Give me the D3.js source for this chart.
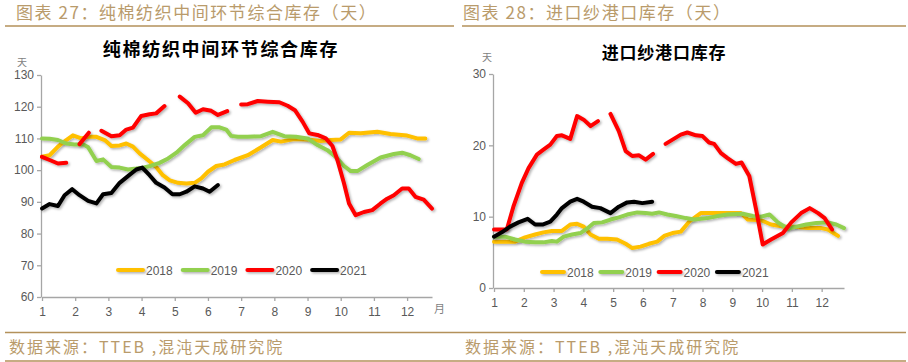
<!DOCTYPE html>
<html>
<head>
<meta charset="utf-8">
<script src="https://cdn.jsdelivr.net/npm/d3@7"></script>
<style>
  body { margin: 0; background: #fff; }
  svg { display: block; font-family: "Liberation Sans Narrow", "Liberation Sans", Arial, sans-serif; }
  .hdr { fill: #b99b6b; font-family: "Noto Sans CJK SC", sans-serif; font-size: 17px; letter-spacing: 1.55px; }
  .src { fill: #b99b6b; font-family: "Noto Sans CJK SC", sans-serif; font-size: 16px; letter-spacing: 2px; }
  .rule { stroke: #b3915a; stroke-width: 1.5; }
  .title { fill: #000; font-family: "Noto Sans CJK SC", sans-serif; font-weight: 700; }
  .unit { fill: #7f7f7f; font-family: "Noto Sans CJK SC", sans-serif; font-size: 10px; }
  .axis path, .axis line { stroke: #a6a6a6; stroke-width: 1.3; }
  .axis text { fill: #595959; font-size: 12px; font-family: "Liberation Sans Narrow", "Liberation Sans", Arial, sans-serif; }
  .lgd { fill: #595959; font-size: 12px; }
  .curve { fill: none; stroke-width: 4; stroke-linecap: round; stroke-linejoin: round; }
</style>
</head>
<body>
<svg id="chart" width="908" height="362"></svg>
<script>
"use strict";


// Data
// ----

var months = [1, 2, 3, 4, 5, 6, 7, 8, 9, 10, 11, 12],
    years  = ["2018", "2019", "2020", "2021"];

// Chart 27 : days, [month, value], null = gap

var left2018 = [[1,104.2],[1.23,104.7],[1.48,107.4],[1.73,109.5],[1.93,111],[2.18,110],[2.39,110.5],[2.64,110.5],[2.89,109.5],[3.09,107.6],[3.34,107.8],[3.54,108.4],[3.74,107.4],[3.94,105.3],[4.19,103.2],[4.44,101],[4.64,98.4],[4.85,96.8],[5.1,96],[5.35,95.8],[5.6,96],[5.8,97.4],[6.0,99.5],[6.25,101.3],[6.5,101.8],[6.8,103.2],[7.2,104.7],[7.6,107.2],[7.95,109.5],[8.2,109],[8.6,109.8],[9.0,109.7],[9.4,109.2],[9.7,109.5],[10.0,109.7],[10.25,111.8],[10.6,111.6],[11.1,112.1],[11.5,111.4],[12.0,110.9],[12.3,110],[12.55,110]];

var left2019 = [[1,110],[1.23,109.9],[1.48,109.5],[1.73,108.4],[1.98,108.1],[2.23,108.2],[2.39,107.2],[2.64,102.9],[2.84,103.4],[3.09,101],[3.34,100.8],[3.59,100.2],[3.84,100.5],[4.04,100.8],[4.29,101.4],[4.54,102.3],[4.8,103.7],[5.05,105.5],[5.3,107.9],[5.6,110.5],[5.85,111],[6.1,113.5],[6.35,113.5],[6.55,112.8],[6.7,110.8],[6.9,110.5],[7.2,110.5],[7.6,110.7],[7.95,112.1],[8.3,110.7],[8.65,110.5],[9.0,110],[9.3,107.9],[9.6,106.3],[9.85,104.2],[10.1,101.3],[10.3,99.7],[10.5,99.7],[10.8,101.6],[11.2,104],[11.6,105.1],[11.85,105.5],[12.1,104.7],[12.35,103.5]];

var left2020 = [[1,104.2],[1.23,103.2],[1.48,102.1],[1.73,102.3],null,[2.13,108.2],[2.41,111.8],null,[2.79,112.4],[3.09,110.7],[3.34,111],[3.54,112.8],[3.74,113.4],[3.99,117.1],[4.24,117.6],[4.44,117.9],[4.69,120.2],null,[5.15,123.2],[5.4,121.1],[5.63,118.1],[5.85,119.2],[6.1,118.7],[6.3,117.4],[6.58,118.6],null,[7.0,120.7],[7.2,120.8],[7.5,121.8],[7.8,121.6],[8.15,121.4],[8.4,120.3],[8.62,118.9],[8.85,115.3],[9.05,111.6],[9.3,111.1],[9.55,110],[9.75,107.6],[9.9,103.2],[10.1,95.8],[10.25,89.5],[10.45,85.8],[10.7,86.8],[10.95,87.4],[11.2,89.5],[11.4,91],[11.6,92.1],[11.85,94.2],[12.05,94.2],[12.25,91.6],[12.5,90.7],[12.75,87.9]];

var left2021 = [[1,87.9],[1.23,89.3],[1.48,88.7],[1.68,92.1],[1.91,94],[2.13,92.1],[2.39,90.3],[2.64,89.5],[2.84,92.4],[3.09,92.8],[3.34,96],[3.59,98.1],[3.84,100.2],[4.02,100.8],[4.24,98.4],[4.44,96],[4.69,94.5],[4.93,92.4],[5.15,92.4],[5.35,93.2],[5.6,94.9],[5.85,94.2],[6.05,93.2],[6.3,95.3]];

// Chart 28 : days

var right2018 = [[1,6.5],[1.37,6.5],[1.71,6.5],[2.04,7.1],[2.38,7.5],[2.66,7.8],[2.94,8],[3.28,8],[3.56,8.9],[3.79,9],[4.01,8.6],[4.24,7.5],[4.52,6.9],[4.8,6.9],[5.13,6.8],[5.42,6.2],[5.64,5.6],[5.92,5.8],[6.2,6.2],[6.48,6.5],[6.71,7.3],[6.99,7.7],[7.27,7.9],[7.55,9.3],[7.94,10.5],[8.28,10.5],[8.73,10.5],[9.29,10.5],[9.52,9.6],[9.97,9.5],[10.3,8.9],[10.75,8.6],[11.09,8.6],[11.54,8.4],[11.99,8.4],[12.21,8.2],[12.55,7.3]];

var right2019 = [[1,7.2],[1.37,7.2],[1.71,6.8],[2.04,6.5],[2.38,6.4],[2.66,6.4],[2.94,6.6],[3.11,6.5],[3.34,7.2],[3.62,7.5],[3.9,7.7],[4.12,8.3],[4.35,9.1],[4.63,9.2],[4.91,9.6],[5.19,9.9],[5.47,10.3],[5.81,10.6],[6.09,10.5],[6.31,10.4],[6.54,10.6],[6.82,10.3],[7.1,10.1],[7.44,9.8],[7.72,9.6],[8.17,9.8],[8.51,10.1],[8.84,10.3],[9.35,10.4],[9.69,10.1],[9.97,10],[10.25,10.3],[10.53,9.2],[10.87,8.3],[11.15,8.6],[11.48,8.9],[11.82,9.1],[12.21,9.2],[12.49,8.9],[12.75,8.4]];

var right2020 = [[1,8.2],[1.43,8.2],[1.65,11.4],[1.93,14.7],[2.16,16.8],[2.44,18.7],[2.66,19.4],[2.89,20.1],[3.11,21.3],[3.28,21.4],[3.56,20.9],[3.79,24.1],[4.01,23.6],[4.24,22.7],[4.49,23.4],null,[4.91,24.4],[5.19,22],[5.42,19.2],[5.64,18.5],[5.87,18.6],[6.09,18],[6.34,18.8],null,[6.76,20.2],[7.27,21.5],[7.49,21.8],[7.78,21.4],[8.0,21.3],[8.22,20.4],[8.39,20.2],[8.62,18.9],[8.84,18.2],[9.12,17.4],[9.31,17.6],[9.57,15.7],[9.8,11],[10.02,6.1],[10.3,6.8],[10.7,7.7],[10.98,9.2],[11.31,10.5],[11.6,11.2],[11.88,10.5],[12.1,9.8],[12.35,8.2]];

var right2021 = [[1,7.2],[1.26,7.8],[1.54,8.6],[1.82,9.2],[2.13,9.7],[2.38,8.9],[2.63,8.9],[2.89,9.3],[3.11,10.3],[3.28,11.2],[3.56,12.1],[3.79,12.5],[4.01,12.1],[4.29,11.4],[4.57,11.2],[4.91,10.5],[5.19,11.4],[5.47,12],[5.7,12.1],[5.98,11.9],[6.31,12.1]];

var leftTicks  = [60, 70, 80, 90, 100, 110, 120, 130],
    rightTicks = [0, 10, 20, 30];


// Styles
// ------

var colors = ["#ffc000", "#92d050", "#ff0000", "#000000"];

var svg = d3.select("#chart");

// soft shadow under every curve (user space, so flat legend lines work too)

svg.append("defs").append("filter")
    .attr("id", "shadow")
    .attr("filterUnits", "userSpaceOnUse")
    .attr("x", 0).attr("y", 0)
    .attr("width", 908).attr("height", 362)
  .append("feDropShadow")
    .attr("dx", 1.5).attr("dy", 1.5)
    .attr("stdDeviation", 1)
    .attr("flood-color", "#000")
    .attr("flood-opacity", 0.3);


// Page frame
// ----------

svg.append("text").attr("class", "hdr")
    .attr("x", 16).attr("y", 19)
    .text("图表 27：纯棉纺织中间环节综合库存（天）");

svg.append("text").attr("class", "hdr")
    .attr("x", 463).attr("y", 19)
    .text("图表 28：进口纱港口库存（天）");

svg.append("line").attr("class", "rule")
    .attr("x1", 5).attr("x2", 454).attr("y1", 26).attr("y2", 26);
svg.append("line").attr("class", "rule")
    .attr("x1", 462).attr("x2", 906).attr("y1", 26).attr("y2", 26);

svg.append("line").attr("class", "rule")
    .attr("x1", 5).attr("x2", 906).attr("y1", 332.5).attr("y2", 332.5);
svg.append("line").attr("class", "rule")
    .attr("x1", 5).attr("x2", 906).attr("y1", 361).attr("y2", 361);

svg.append("text").attr("class", "src")
    .attr("x", 9).attr("y", 353)
    .text("数据来源：TTEB ,混沌天成研究院");
svg.append("text").attr("class", "src")
    .attr("x", 465).attr("y", 353)
    .text("数据来源：TTEB ,混沌天成研究院");


// One chart
// ---------

function chart(o) {

  var x = d3.scaleLinear().domain([1, 12.75]).range([o.left, o.right]),
      y = d3.scaleLinear().domain(o.domain).range([o.bottom, o.top]),
      g = svg.append("g");

  // Title and units

  g.append("text").attr("class", "title")
      .attr("x", o.titleX).attr("y", o.titleY)
      .attr("text-anchor", "middle")
      .style("font-size", o.titleSize + "px")
      .style("letter-spacing", o.titleSpacing + "px")
      .text(o.title);

  g.append("text").attr("class", "unit")
      .attr("x", o.unitX).attr("y", o.unitY)
      .attr("text-anchor", "middle")
      .text("天");

  if (o.month) {
    g.append("text").attr("class", "unit")
        .attr("x", o.right + 2).attr("y", o.bottom + 16)
        .style("font-size", "11px")
        .text("月");
  }

  // Axes

  g.append("g")
      .attr("class", "axis")
      .attr("transform", "translate(0," + o.bottom + ")")
      .call(d3.axisBottom(x).tickValues(months).tickSize(4)
          .tickSizeOuter(0).tickPadding(6).tickFormat(d3.format("d")));

  g.append("g")
      .attr("class", "axis")
      .attr("transform", "translate(" + (o.left - 1) + ",0)")
      .call(d3.axisLeft(y).tickValues(o.ticks).tickSize(4)
          .tickSizeOuter(0).tickPadding(3));

  // Curves

  var line = d3.line()
      .defined(function(d) { return d; })
      .x(function(d) { return x(d[0]); })
      .y(function(d) { return y(d[1]); });

  o.series.forEach(function(s, i) {
    g.append("path")
        .attr("class", "curve")
        .attr("filter", "url(#shadow)")
        .attr("stroke", colors[i])
        .attr("d", line(s));
  });

  // Legend

  years.forEach(function(yr, i) {
    var lx = o.legendX + i * o.legendStep;
    g.append("line")
        .attr("x1", lx).attr("x2", lx + o.legendLen)
        .attr("y1", o.legendY).attr("y2", o.legendY)
        .attr("stroke", colors[i])
        .attr("stroke-width", 4)
        .attr("stroke-linecap", "round")
        .attr("filter", "url(#shadow)");
    g.append("text").attr("class", "lgd")
        .attr("x", lx + o.legendLen + 3).attr("y", o.legendY + 4.5)
        .text(yr);
  });
}


chart({
  left: 42, right: 432, top: 75, bottom: 297,
  domain: [60, 130], ticks: leftTicks,
  series: [left2018, left2019, left2020, left2021],
  title: "纯棉纺织中间环节综合库存", titleX: 221, titleY: 56,
  titleSize: 18, titleSpacing: 1.7,
  unitX: 22, unitY: 66, month: true,
  legendX: 118, legendStep: 64.7, legendLen: 25, legendY: 270
});

chart({
  left: 494, right: 844, top: 74, bottom: 288,
  domain: [0, 30], ticks: rightTicks,
  series: [right2018, right2019, right2020, right2021],
  title: "进口纱港口库存", titleX: 664, titleY: 59,
  titleSize: 17, titleSpacing: 0.8,
  unitX: 487, unitY: 61, month: false,
  legendX: 542, legendStep: 58.3, legendLen: 22, legendY: 272
});

</script>
</body>
</html>
